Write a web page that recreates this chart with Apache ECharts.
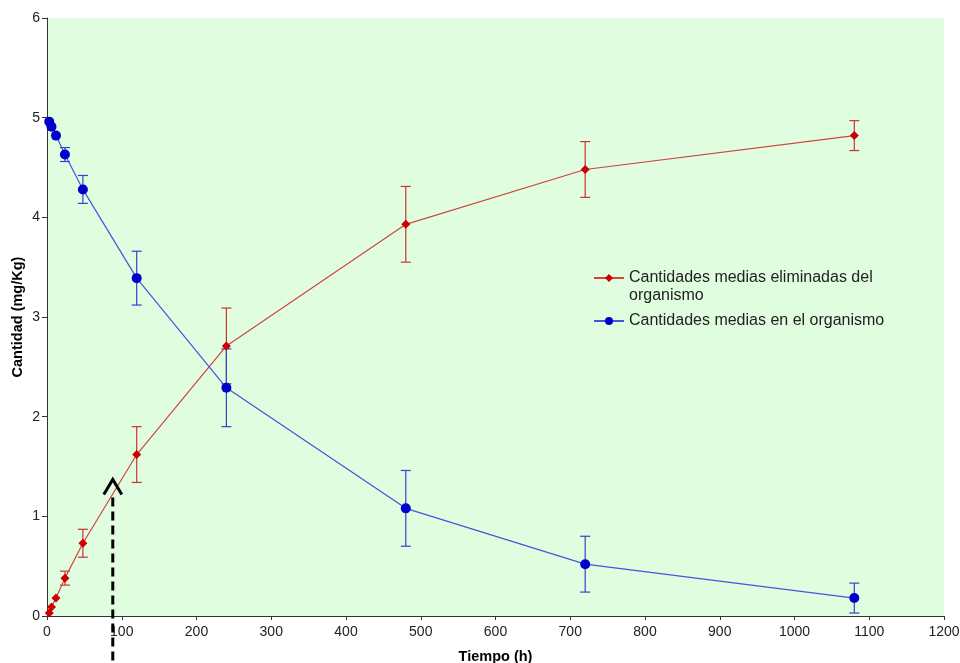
<!DOCTYPE html>
<html>
<head>
<meta charset="utf-8">
<script src="https://cdn.jsdelivr.net/npm/echarts@6/dist/echarts.min.js"></script>
<style>
html,body{margin:0;padding:0;background:#fff;}
#c{width:960px;height:663px;}
</style>
</head>
<body>
<div id="c"></div>
<script>
var times = [3, 6, 12, 24, 48, 120, 240, 480, 720, 1080];
var eliminated = [0.03, 0.09, 0.18, 0.38, 0.73, 1.62, 2.71, 3.93, 4.48, 4.82];
var eliminatedErr = [0, 0, 0, 0.07, 0.14, 0.28, 0.38, 0.38, 0.28, 0.15];
var inBody = [4.96, 4.91, 4.82, 4.63, 4.28, 3.39, 2.29, 1.08, 0.52, 0.18];
var inBodyErr = [0, 0, 0, 0.07, 0.14, 0.27, 0.39, 0.38, 0.28, 0.15];
var nameElim = 'Cantidades medias eliminadas del';
var nameElim2 = 'organismo';
var nameBody = 'Cantidades medias en el organismo';
var arrowX = 88, arrowTop = 1.37;

function pts(v){ return times.map(function(t,i){ return [t, v[i]]; }); }
function errs(v,e){ return times.map(function(t,i){ return [t, v[i]-e[i], v[i]+e[i]]; }).filter(function(d){return d[2]-d[1]>0;}); }
function errRender(color){
  return function(params, api){
    var x = api.value(0);
    var lo = api.coord([x, api.value(1)]);
    var hi = api.coord([x, api.value(2)]);
    var w = 5;
    var st = {stroke: color, lineWidth: 1.2};
    return {type:'group', children:[
      {type:'line', shape:{x1:lo[0],y1:lo[1],x2:hi[0],y2:hi[1]}, style:st},
      {type:'line', shape:{x1:lo[0]-w,y1:lo[1],x2:lo[0]+w,y2:lo[1]}, style:st},
      {type:'line', shape:{x1:hi[0]-w,y1:hi[1],x2:hi[0]+w,y2:hi[1]}, style:st}
    ]};
  };
}

var chart = echarts.init(document.getElementById('c'), null, {renderer:'canvas'});
var font = '"Liberation Sans", Arial, sans-serif';
var option = {
  animation:false,
  textStyle:{fontFamily:font},
  grid:{left:47, right:16, top:18, bottom:47, containLabel:false, outerBoundsMode:'none',
        show:true, backgroundColor:'#e0fddf', borderWidth:0},
  xAxis:{
    type:'value', min:0, max:1200, interval:100,
    name:'Tiempo (h)', nameLocation:'middle', nameGap:33,
    nameTextStyle:{fontWeight:'bold', fontSize:14.5, color:'#000', fontFamily:font},
    axisLine:{lineStyle:{color:'#333'}},
    axisTick:{show:true, length:4, lineStyle:{color:'#333'}},
    axisLabel:{fontSize:14, color:'#222', margin:9, fontFamily:font, formatter:function(v){return String(v);}},
    splitLine:{show:false}
  },
  yAxis:{
    type:'value', min:0, max:6, interval:1,
    name:'Cantidad (mg/Kg)', nameLocation:'middle', nameGap:22, nameRotate:90, nameMoveOverlap:false,
    nameTextStyle:{fontWeight:'bold', fontSize:14.5, color:'#000', fontFamily:font},
    axisLine:{show:true, lineStyle:{color:'#333'}},
    axisTick:{show:true, length:5, lineStyle:{color:'#333'}},
    axisLabel:{fontSize:14, color:'#222', margin:7, fontFamily:font},
    splitLine:{show:false}
  },
  legend:{
    orient:'vertical', left:588, top:265, itemWidth:30, itemHeight:10, itemGap:27,
    textStyle:{fontSize:16, color:'#222', fontFamily:font},
    data:[nameElim, nameBody]
  },
  series:[
    {type:'custom', name:'errElim', renderItem:errRender('#cc3333'), data:errs(eliminated, eliminatedErr), encode:{x:0,y:[1,2]}, z:2, silent:true},
    {type:'custom', name:'errBody', renderItem:errRender('#3344cc'), data:errs(inBody, inBodyErr), encode:{x:0,y:[1,2]}, z:2, silent:true},
    {type:'line', name:nameElim, data:pts(eliminated), symbol:'diamond', symbolSize:9,
      lineStyle:{color:'#d04444', width:1.2}, itemStyle:{color:'#cc0000'}, z:3},
    {type:'line', name:nameBody, data:pts(inBody), symbol:'circle', symbolSize:10,
      lineStyle:{color:'#4455dd', width:1.2}, itemStyle:{color:'#0000cc'}, z:4}
  ]
};
chart.setOption(option);

var apex = chart.convertToPixel({gridIndex:0}, [arrowX, arrowTop]);
chart.setOption({
  graphic:[
    {type:'text', left:629, top:288, style:{text:nameElim2, font:'16px ' + font, fill:'#222'}},
    {type:'polyline', shape:{points:[[apex[0]-9, apex[1]+15],[apex[0], apex[1]],[apex[0]+9, apex[1]+15]]}, style:{stroke:'#000', lineWidth:3, fill:null}, z:10},
    {type:'line', shape:{x1:apex[0], y1:apex[1]+18, x2:apex[0], y2:663}, style:{stroke:'#000', lineWidth:3, lineDash:[9,5]}, z:10}
  ]
});
</script>
</body>
</html>
